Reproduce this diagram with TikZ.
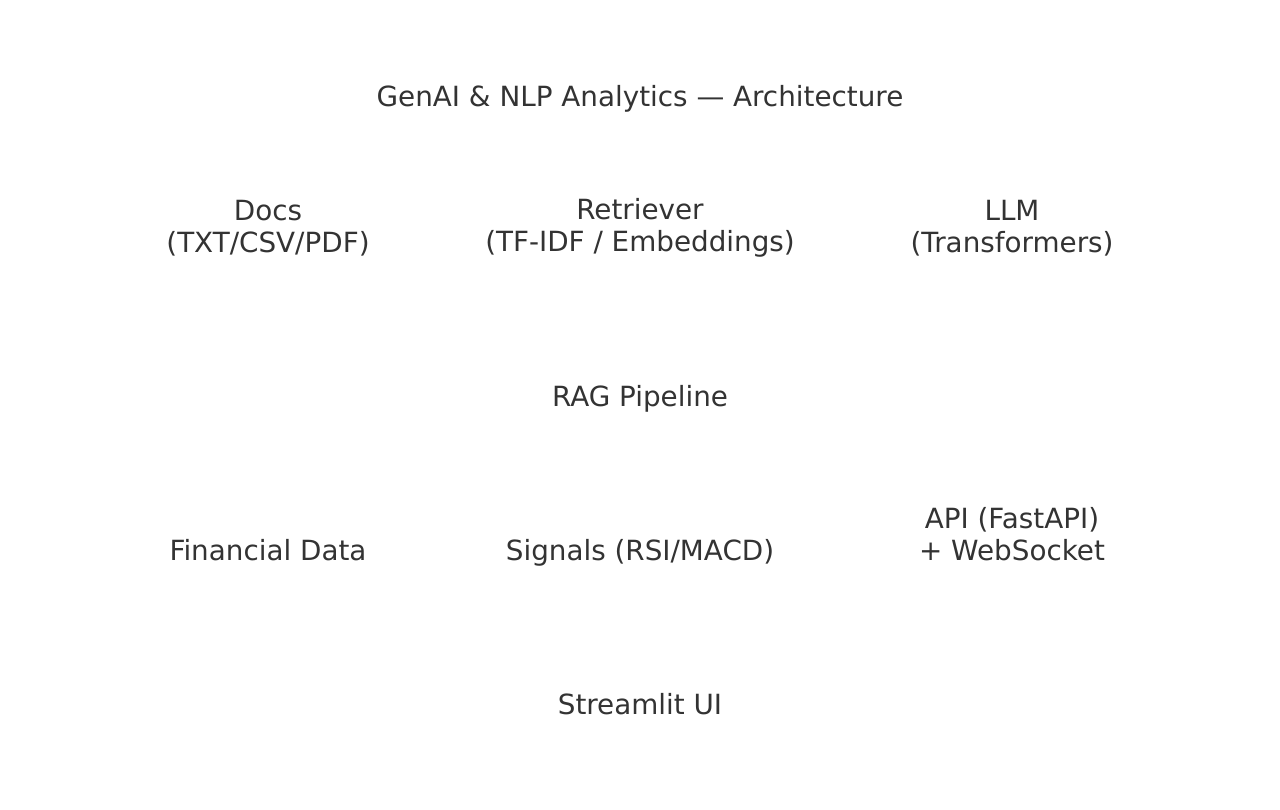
\documentclass[tikz,border=0pt]{standalone}
\usepackage{fontspec}
\setmainfont{DejaVu Sans}
\usepackage{tikz}
\usetikzlibrary{positioning}
\definecolor{labelgray}{HTML}{333333}
\tikzset{
	block/.style={text=labelgray,align=center,font=\fontsize{27.8}{32}\selectfont,inner sep=0pt},
}

\begin{document}
\begin{tikzpicture}[x=1pt,y=1pt]
	\fill[white] (0,0) rectangle (1280,810);
	\useasboundingbox (0,0) rectangle (1280,810);

	\node[block] (title) at (640,711) {GenAI \& NLP Analytics — Architecture};

	\node[block] (docs) at (268,582) {Docs\\(TXT/CSV/PDF)};
	\node[block] (retriever) at (640,582) {Retriever\\(TF-IDF / Embeddings)};
	\node[block] (llm) at (1012,582) {LLM\\(Transformers)};

	\node[block] (rag) at (640,411) {RAG Pipeline};

	\node[block] (findata) at (268,260) {Financial Data};
	\node[block] (signals) at (640,257) {Signals (RSI/MACD)};
	\node[block] (api) at (1012,276) {API (FastAPI)\\+ WebSocket};

	\node[block] (ui) at (640,106) {Streamlit UI};
\end{tikzpicture}
\end{document}
